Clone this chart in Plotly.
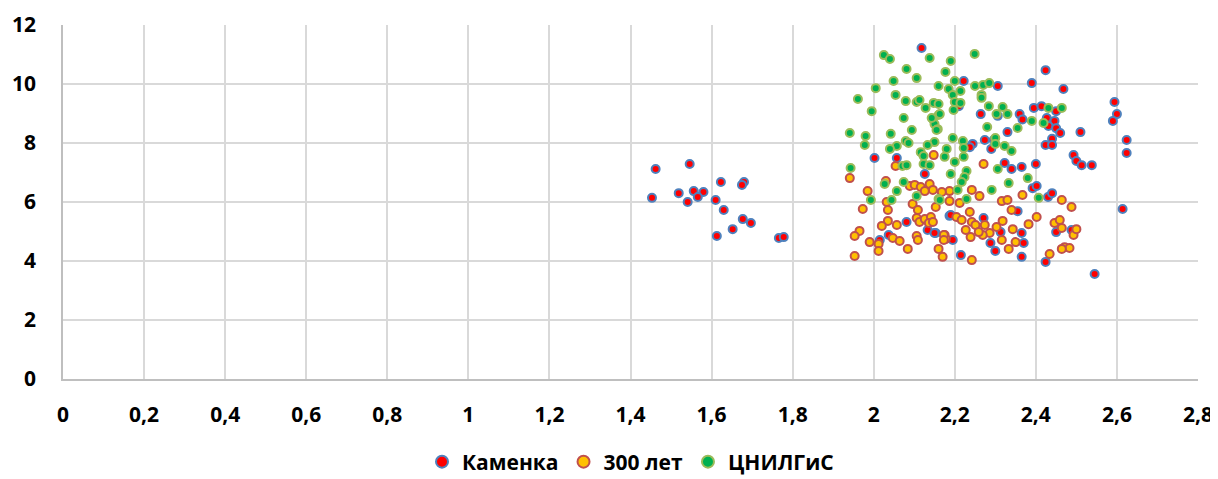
import plotly.graph_objects as go

# ---------------- data ----------------
kamenka_x = [1.462, 1.546, 1.453, 1.519, 1.556, 1.580, 1.566, 1.541, 1.623, 1.680, 1.675, 1.610, 1.630,
             1.677, 1.697, 1.652, 1.613, 1.766, 1.778,
             2.222, 2.306, 2.390, 2.424, 2.468, 2.594, 2.600, 2.590, 2.624, 2.264, 2.306, 2.360, 2.367,
             2.395, 2.414, 2.450, 2.427, 2.446, 2.431, 2.450, 2.460, 2.440, 2.424, 2.440, 2.510, 2.330,
             2.274, 2.296, 2.290, 2.244, 2.237, 2.493, 2.210, 2.118, 2.002, 2.057, 2.126, 2.081, 2.037,
             2.015, 2.133, 2.153, 2.187, 2.323, 2.340, 2.365, 2.400, 2.500, 2.513, 2.538, 2.392, 2.402,
             2.430, 2.440, 2.355, 2.271, 2.313, 2.365, 2.370, 2.288, 2.300, 2.215, 2.365, 2.424, 2.545,
             2.614, 2.150, 2.195, 2.190, 2.450, 2.488, 2.624]
kamenka_y = [7.12, 7.29, 6.14, 6.30, 6.37, 6.34, 6.17, 6.00, 6.68, 6.68, 6.58, 6.07, 5.73,
             5.42, 5.29, 5.08, 4.85, 4.78, 4.81,
             10.10, 9.93, 10.03, 10.47, 9.83, 9.39, 8.98, 8.75, 8.10, 8.98, 8.92, 8.98, 8.80,
             9.19, 9.25, 9.08, 8.85, 8.75, 8.58, 8.50, 8.34, 8.14, 7.93, 7.93, 8.37, 8.37,
             8.10, 8.10, 7.80, 7.97, 7.86, 7.59, 9.25, 11.22, 7.49, 7.49, 6.95, 5.32, 4.88,
             4.71, 5.05, 4.95, 5.53, 7.32, 7.12, 7.19, 7.29, 7.39, 7.25, 7.25, 6.47, 6.54,
             6.17, 6.30, 5.69, 5.46, 4.98, 4.95, 4.61, 4.61, 4.34, 4.20, 4.14, 3.97, 3.56,
             5.76, 4.95, 4.71, 5.56, 4.98, 5.05, 7.66]

let300_x = [2.148, 1.941, 2.054, 2.030, 1.985, 2.032, 2.035, 1.973, 2.089, 2.101, 2.116, 2.138, 2.126,
            2.146, 2.096, 2.109, 2.106, 2.113, 2.126, 2.141, 2.136, 2.153, 2.057, 2.035, 2.020, 1.965,
            1.953, 1.990, 2.012, 2.012, 1.953, 2.047, 2.064, 2.084, 2.106, 2.109, 2.160, 2.170, 2.175,
            2.178, 2.187, 2.271, 2.168, 2.187, 2.146, 2.212, 2.237, 2.242, 2.261, 2.316, 2.330, 2.340,
            2.367, 2.382, 2.402, 2.464, 2.488, 2.204, 2.217, 2.242, 2.251, 2.274, 2.286, 2.269, 2.259,
            2.239, 2.227, 2.173, 2.173, 2.242, 2.316, 2.333, 2.350, 2.343, 2.303, 2.318, 2.446, 2.459,
            2.464, 2.493, 2.500, 2.471, 2.483, 2.464, 2.434]
let300_y = [7.59, 6.81, 7.22, 6.71, 6.37, 6.00, 5.73, 5.76, 6.54, 6.58, 6.51, 6.61, 6.37,
            6.41, 5.93, 5.73, 5.46, 5.32, 5.42, 5.49, 5.29, 5.83, 5.22, 5.36, 5.19, 5.02,
            4.85, 4.64, 4.58, 4.34, 4.17, 4.78, 4.68, 4.41, 4.85, 4.71, 4.41, 4.14, 4.88,
            4.75, 6.37, 7.29, 6.34, 6.03, 5.32, 5.97, 5.66, 6.41, 6.20, 6.03, 6.07, 5.73,
            6.24, 5.25, 5.49, 6.07, 5.83, 5.49, 5.39, 5.32, 5.22, 5.22, 4.95, 4.88, 4.98,
            4.81, 5.05, 4.88, 4.71, 4.03, 4.71, 4.41, 4.64, 5.08, 5.15, 5.36, 5.29, 5.39,
            5.12, 4.88, 5.08, 4.47, 4.44, 4.41, 4.24]

cnilgis_x = [2.249, 2.190, 2.177, 2.200, 2.160, 2.185, 2.214, 2.250, 2.270, 2.285, 2.195, 2.200, 2.214,
             2.148, 2.160, 2.266, 2.266, 2.284, 2.197, 2.160, 2.146, 2.150, 2.158, 2.318, 2.303, 2.330,
             2.280, 2.355, 2.390, 2.419, 2.431, 2.464, 2.150, 2.195, 2.220, 2.222, 2.180, 2.300, 2.300,
             2.323, 2.340, 2.175, 2.222, 2.025, 2.040, 2.138, 2.081, 2.106, 2.049, 2.005, 1.961, 2.054,
             2.079, 2.106, 2.113, 2.128, 2.163, 2.143, 2.155, 1.995, 2.074, 2.094, 1.941, 1.980, 2.042,
             1.978, 2.079, 2.086, 2.057, 2.040, 2.116, 2.123, 2.133, 1.943, 2.027, 2.057, 2.044, 1.993,
             2.074, 2.106, 2.071, 2.081, 2.123, 2.138, 2.160, 2.200, 2.190, 2.229, 2.224, 2.217, 2.207,
             2.229, 2.163, 2.291, 2.333, 2.380, 2.407, 2.306]
cnilgis_y = [11.02, 10.78, 10.41, 10.10, 9.93, 9.83, 9.76, 9.93, 9.97, 10.03, 9.63, 9.39, 9.36,
             9.36, 9.32, 9.63, 9.53, 9.25, 9.12, 8.95, 8.81, 8.64, 8.47, 9.22, 8.98, 8.98,
             8.54, 8.51, 8.75, 8.68, 9.19, 9.19, 8.03, 8.17, 8.07, 7.83, 7.80, 8.17, 7.97,
             7.90, 7.73, 7.53, 7.53, 10.98, 10.85, 10.88, 10.51, 10.20, 10.10, 9.86, 9.49, 9.63,
             9.42, 9.39, 9.46, 9.19, 8.98, 8.85, 8.44, 9.08, 8.85, 8.44, 8.34, 8.24, 8.31,
             7.93, 8.07, 8.00, 7.90, 7.80, 7.69, 7.56, 7.93, 7.15, 6.61, 6.37, 6.07, 6.07,
             6.68, 6.20, 7.22, 7.25, 7.29, 7.25, 6.10, 7.36, 6.95, 7.05, 6.85, 6.68, 6.41,
             6.10, 6.07, 6.41, 6.64, 6.81, 6.14, 7.12]

series_names = ["Каменка", "300 лет", "ЦНИЛГиС"]

x_tick_vals = [0, 0.2, 0.4, 0.6, 0.8, 1, 1.2, 1.4, 1.6, 1.8, 2, 2.2, 2.4, 2.6, 2.8]
x_tick_text = ["0", "0,2", "0,4", "0,6", "0,8", "1", "1,2", "1,4", "1,6", "1,8", "2", "2,2", "2,4", "2,6", "2,8"]
y_tick_vals = [0, 2, 4, 6, 8, 10, 12]

# ---------------- figure ----------------
styles = [
    dict(fill="#FF0000", line="#4F81BD"),
    dict(fill="#FFC000", line="#C0504D"),
    dict(fill="#00B050", line="#9BBB59"),
]
data = [(kamenka_x, kamenka_y), (let300_x, let300_y), (cnilgis_x, cnilgis_y)]

fig = go.Figure()
for (xs, ys), name, st in zip(data, series_names, styles):
    fig.add_trace(go.Scatter(
        x=xs, y=ys, mode="markers", name=name,
        marker=dict(size=8, color=st["fill"], line=dict(color=st["line"], width=2)),
    ))

font_family = "'Open Sans', Lato, sans-serif"
# page body has an 8px default margin, so the figure is sized to end at the window edge
fig.update_layout(
    width=1210, height=471,
    margin=dict(l=55, r=20, t=17, b=100, autoexpand=False),
    paper_bgcolor="white", plot_bgcolor="white",
    font=dict(family=font_family, size=20, color="#000000"),
    showlegend=True,
    legend=dict(orientation="h", x=0.5, xanchor="center", y=-0.2345, yanchor="middle",
                font=dict(family=font_family, size=21, color="#000000", weight="bold"),
                itemsizing="constant", itemwidth=30, tracegroupgap=0),
)
fig.update_xaxes(
    range=[0, 2.8], tickvals=x_tick_vals, ticktext=x_tick_text,
    showgrid=True, gridcolor="#D9D9D9", gridwidth=1.5,
    showline=True, linecolor="#BFBFBF", linewidth=1.5,
    zeroline=False, ticks="", ticklabelstandoff=16,
    tickfont=dict(family=font_family, size=21, color="#000000", weight="bold"),
)
fig.update_yaxes(
    range=[0, 12], tickvals=y_tick_vals,
    showgrid=True, gridcolor="#D9D9D9", gridwidth=1.5,
    showline=True, linecolor="#BFBFBF", linewidth=1.5,
    zeroline=False, ticks="", ticklabelstandoff=21,
    tickfont=dict(family=font_family, size=21, color="#000000", weight="bold"),
)

fig.write_html("out.html")
